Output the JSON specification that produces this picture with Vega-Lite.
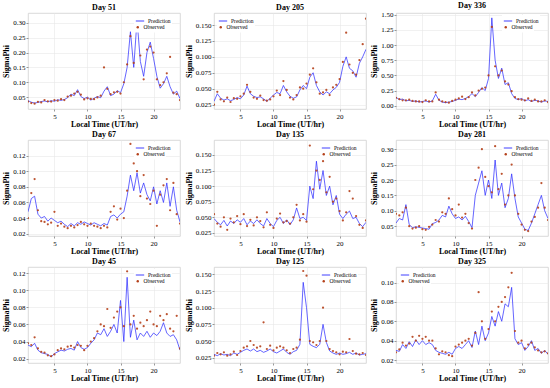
{
"$schema": "https://vega.github.io/schema/vega-lite/v6.json",
"padding": {"left": 2, "top": 1, "right": 2, "bottom": 1},
"background": "white",
"datasets": {
"d51": [{"t":1,"p":0.038,"o":0.035},{"t":1.5,"p":0.033,"o":0.030},{"t":2,"p":0.030,"o":0.028},{"t":2.5,"p":0.032,"o":0.034},{"t":3,"p":0.035,"o":0.032},{"t":3.5,"p":0.037,"o":0.040},{"t":4,"p":0.034,"o":0.036},{"t":4.5,"p":0.038,"o":0.035},{"t":5,"p":0.036,"o":0.040},{"t":5.5,"p":0.041,"o":0.038},{"t":6,"p":0.039,"o":0.043},{"t":6.5,"p":0.042,"o":0.040},{"t":7,"p":0.048,"o":0.052},{"t":7.5,"p":0.060,"o":0.055},{"t":8,"p":0.055,"o":0.062},{"t":8.5,"p":0.075,"o":0.068},{"t":9,"p":0.052,"o":0.058},{"t":9.5,"p":0.045,"o":0.042},{"t":10,"p":0.050,"o":0.046},{"t":10.5,"p":0.040,"o":0.044},{"t":11,"p":0.046,"o":0.043},{"t":11.5,"p":0.052,"o":0.049},{"t":12,"p":0.048,"o":0.055},{"t":12.5,"p":0.070,"o":0.150},{"t":13,"p":0.085,"o":0.078},{"t":13.5,"p":0.055,"o":0.060},{"t":14,"p":0.060,"o":0.066},{"t":14.5,"p":0.072,"o":0.068},{"t":15,"p":0.065,"o":0.062},{"t":15.5,"p":0.095,"o":0.100},{"t":16,"p":0.150,"o":0.160},{"t":16.5,"p":0.270,"o":0.255},{"t":17,"p":0.150,"o":0.165},{"t":17.5,"p":0.310,"o":0.300},{"t":18,"p":0.170,"o":0.190},{"t":18.5,"p":0.120,"o":0.110},{"t":19,"p":0.200,"o":0.210},{"t":19.5,"p":0.235,"o":0.220},{"t":20,"p":0.180,"o":0.200},{"t":20.5,"p":0.120,"o":0.110},{"t":21,"p":0.080,"o":0.090},{"t":21.5,"p":0.095,"o":0.100},{"t":22,"p":0.120,"o":0.130},{"t":22.5,"p":0.085,"o":0.185},{"t":23,"p":0.060,"o":0.065},{"t":23.5,"p":0.070,"o":0.060},{"t":24,"p":0.045,"o":0.040}],
"d205": [{"t":1,"p":0.030,"o":0.025},{"t":1.5,"p":0.042,"o":0.045},{"t":2,"p":0.035,"o":0.033},{"t":2.5,"p":0.032,"o":0.030},{"t":3,"p":0.034,"o":0.036},{"t":3.5,"p":0.031,"o":0.029},{"t":4,"p":0.033,"o":0.035},{"t":4.5,"p":0.036,"o":0.034},{"t":5,"p":0.034,"o":0.038},{"t":5.5,"p":0.040,"o":0.042},{"t":6,"p":0.054,"o":0.056},{"t":6.5,"p":0.042,"o":0.045},{"t":7,"p":0.038,"o":0.036},{"t":7.5,"p":0.036,"o":0.034},{"t":8,"p":0.037,"o":0.039},{"t":8.5,"p":0.034,"o":0.032},{"t":9,"p":0.030,"o":0.031},{"t":9.5,"p":0.035,"o":0.033},{"t":10,"p":0.040,"o":0.038},{"t":10.5,"p":0.044,"o":0.047},{"t":11,"p":0.042,"o":0.040},{"t":11.5,"p":0.055,"o":0.062},{"t":12,"p":0.045,"o":0.048},{"t":12.5,"p":0.038,"o":0.036},{"t":13,"p":0.035,"o":0.033},{"t":13.5,"p":0.037,"o":0.040},{"t":14,"p":0.048,"o":0.052},{"t":14.5,"p":0.055,"o":0.050},{"t":15,"p":0.050,"o":0.058},{"t":15.5,"p":0.068,"o":0.072},{"t":16,"p":0.075,"o":0.082},{"t":16.5,"p":0.055,"o":0.060},{"t":17,"p":0.045,"o":0.042},{"t":17.5,"p":0.040,"o":0.044},{"t":18,"p":0.045,"o":0.048},{"t":18.5,"p":0.042,"o":0.040},{"t":19,"p":0.048,"o":0.052},{"t":19.5,"p":0.052,"o":0.056},{"t":20,"p":0.060,"o":0.065},{"t":20.5,"p":0.085,"o":0.092},{"t":21,"p":0.100,"o":0.138},{"t":21.5,"p":0.082,"o":0.088},{"t":22,"p":0.078,"o":0.075},{"t":22.5,"p":0.068,"o":0.072},{"t":23,"p":0.090,"o":0.095},{"t":23.5,"p":0.100,"o":0.120},{"t":24,"p":0.112,"o":0.160}],
"d336": [{"t":1,"p":0.14,"o":0.13},{"t":1.5,"p":0.10,"o":0.11},{"t":2,"p":0.11,"o":0.09},{"t":2.5,"p":0.08,"o":0.09},{"t":3,"p":0.09,"o":0.10},{"t":3.5,"p":0.07,"o":0.08},{"t":4,"p":0.08,"o":0.07},{"t":4.5,"p":0.06,"o":0.07},{"t":5,"p":0.07,"o":0.06},{"t":5.5,"p":0.08,"o":0.09},{"t":6,"p":0.06,"o":0.07},{"t":6.5,"p":0.08,"o":0.07},{"t":7,"p":0.19,"o":0.22},{"t":7.5,"p":0.09,"o":0.10},{"t":8,"p":0.06,"o":0.07},{"t":8.5,"p":0.05,"o":0.06},{"t":9,"p":0.06,"o":0.05},{"t":9.5,"p":0.07,"o":0.08},{"t":10,"p":0.09,"o":0.10},{"t":10.5,"p":0.11,"o":0.12},{"t":11,"p":0.10,"o":0.15},{"t":11.5,"p":0.12,"o":0.11},{"t":12,"p":0.15,"o":0.14},{"t":12.5,"p":0.20,"o":0.22},{"t":13,"p":0.15,"o":0.17},{"t":13.5,"p":0.22,"o":0.25},{"t":14,"p":0.30,"o":0.28},{"t":14.5,"p":0.25,"o":0.30},{"t":15,"p":0.45,"o":0.50},{"t":15.5,"p":1.45,"o":1.30},{"t":16,"p":0.75,"o":0.65},{"t":16.5,"p":0.45,"o":0.50},{"t":17,"p":0.62,"o":0.58},{"t":17.5,"p":0.35,"o":0.40},{"t":18,"p":0.38,"o":0.35},{"t":18.5,"p":0.20,"o":0.24},{"t":19,"p":0.12,"o":0.14},{"t":19.5,"p":0.10,"o":0.11},{"t":20,"p":0.12,"o":0.10},{"t":20.5,"p":0.08,"o":0.09},{"t":21,"p":0.10,"o":0.12},{"t":21.5,"p":0.07,"o":0.08},{"t":22,"p":0.09,"o":0.10},{"t":22.5,"p":0.08,"o":0.07},{"t":23,"p":0.06,"o":0.07},{"t":23.5,"p":0.08,"o":0.09},{"t":24,"p":0.07,"o":0.06}],
"d67": [{"t":1,"p":0.048,"o":0.040},{"t":1.5,"p":0.065,"o":0.072},{"t":2,"p":0.068,"o":0.090},{"t":2.5,"p":0.045,"o":0.050},{"t":3,"p":0.040,"o":0.036},{"t":3.5,"p":0.042,"o":0.035},{"t":4,"p":0.036,"o":0.032},{"t":4.5,"p":0.040,"o":0.034},{"t":5,"p":0.037,"o":0.048},{"t":5.5,"p":0.034,"o":0.030},{"t":6,"p":0.036,"o":0.033},{"t":6.5,"p":0.032,"o":0.029},{"t":7,"p":0.029,"o":0.027},{"t":7.5,"p":0.033,"o":0.030},{"t":8,"p":0.030,"o":0.028},{"t":8.5,"p":0.034,"o":0.031},{"t":9,"p":0.032,"o":0.035},{"t":9.5,"p":0.035,"o":0.032},{"t":10,"p":0.033,"o":0.030},{"t":10.5,"p":0.031,"o":0.033},{"t":11,"p":0.034,"o":0.030},{"t":11.5,"p":0.032,"o":0.029},{"t":12,"p":0.030,"o":0.027},{"t":12.5,"p":0.033,"o":0.030},{"t":13,"p":0.031,"o":0.028},{"t":13.5,"p":0.042,"o":0.048},{"t":14,"p":0.044,"o":0.055},{"t":14.5,"p":0.040,"o":0.038},{"t":15,"p":0.045,"o":0.052},{"t":15.5,"p":0.048,"o":0.040},{"t":16,"p":0.068,"o":0.075},{"t":16.5,"p":0.095,"o":0.135},{"t":17,"p":0.075,"o":0.110},{"t":17.5,"p":0.098,"o":0.100},{"t":18,"p":0.072,"o":0.068},{"t":18.5,"p":0.085,"o":0.095},{"t":19,"p":0.070,"o":0.065},{"t":19.5,"p":0.062,"o":0.058},{"t":20,"p":0.080,"o":0.075},{"t":20.5,"p":0.058,"o":0.030},{"t":21,"p":0.075,"o":0.070},{"t":21.5,"p":0.060,"o":0.082},{"t":22,"p":0.085,"o":0.090},{"t":22.5,"p":0.055,"o":0.050},{"t":23,"p":0.080,"o":0.085},{"t":23.5,"p":0.050,"o":0.045},{"t":24,"p":0.035,"o":0.033}],
"d135": [{"t":1,"p":0.048,"o":0.055},{"t":1.5,"p":0.042,"o":0.040},{"t":2,"p":0.038,"o":0.035},{"t":2.5,"p":0.045,"o":0.050},{"t":3,"p":0.036,"o":0.030},{"t":3.5,"p":0.044,"o":0.048},{"t":4,"p":0.040,"o":0.042},{"t":4.5,"p":0.046,"o":0.052},{"t":5,"p":0.042,"o":0.039},{"t":5.5,"p":0.048,"o":0.055},{"t":6,"p":0.038,"o":0.036},{"t":6.5,"p":0.044,"o":0.046},{"t":7,"p":0.040,"o":0.037},{"t":7.5,"p":0.046,"o":0.050},{"t":8,"p":0.040,"o":0.044},{"t":8.5,"p":0.036,"o":0.034},{"t":9,"p":0.048,"o":0.058},{"t":9.5,"p":0.040,"o":0.038},{"t":10,"p":0.035,"o":0.033},{"t":10.5,"p":0.045,"o":0.048},{"t":11,"p":0.050,"o":0.056},{"t":11.5,"p":0.040,"o":0.042},{"t":12,"p":0.046,"o":0.044},{"t":12.5,"p":0.038,"o":0.040},{"t":13,"p":0.046,"o":0.050},{"t":13.5,"p":0.065,"o":0.070},{"t":14,"p":0.048,"o":0.045},{"t":14.5,"p":0.050,"o":0.055},{"t":15,"p":0.045,"o":0.043},{"t":15.5,"p":0.100,"o":0.165},{"t":16,"p":0.080,"o":0.095},{"t":16.5,"p":0.140,"o":0.125},{"t":17,"p":0.095,"o":0.110},{"t":17.5,"p":0.125,"o":0.140},{"t":18,"p":0.085,"o":0.090},{"t":18.5,"p":0.100,"o":0.115},{"t":19,"p":0.070,"o":0.075},{"t":19.5,"p":0.085,"o":0.080},{"t":20,"p":0.055,"o":0.060},{"t":20.5,"p":0.048,"o":0.045},{"t":21,"p":0.055,"o":0.058},{"t":21.5,"p":0.060,"o":0.092},{"t":22,"p":0.048,"o":0.080},{"t":22.5,"p":0.050,"o":0.052},{"t":23,"p":0.040,"o":0.038},{"t":23.5,"p":0.035,"o":0.033},{"t":24,"p":0.042,"o":0.045}],
"d281": [{"t":1,"p":0.060,"o":0.090},{"t":1.5,"p":0.075,"o":0.085},{"t":2,"p":0.070,"o":0.095},{"t":2.5,"p":0.120,"o":0.110},{"t":3,"p":0.055,"o":0.050},{"t":3.5,"p":0.045,"o":0.042},{"t":4,"p":0.048,"o":0.045},{"t":4.5,"p":0.046,"o":0.050},{"t":5,"p":0.044,"o":0.040},{"t":5.5,"p":0.042,"o":0.038},{"t":6,"p":0.040,"o":0.048},{"t":6.5,"p":0.058,"o":0.055},{"t":7,"p":0.062,"o":0.070},{"t":7.5,"p":0.070,"o":0.065},{"t":8,"p":0.085,"o":0.095},{"t":8.5,"p":0.080,"o":0.090},{"t":9,"p":0.115,"o":0.140},{"t":9.5,"p":0.090,"o":0.105},{"t":10,"p":0.075,"o":0.085},{"t":10.5,"p":0.080,"o":0.120},{"t":11,"p":0.070,"o":0.078},{"t":11.5,"p":0.082,"o":0.090},{"t":12,"p":0.065,"o":0.060},{"t":12.5,"p":0.045,"o":0.042},{"t":13,"p":0.150,"o":0.200},{"t":13.5,"p":0.190,"o":0.240},{"t":14,"p":0.230,"o":0.300},{"t":14.5,"p":0.150,"o":0.210},{"t":15,"p":0.200,"o":0.180},{"t":15.5,"p":0.140,"o":0.160},{"t":16,"p":0.265,"o":0.310},{"t":16.5,"p":0.150,"o":0.170},{"t":17,"p":0.190,"o":0.220},{"t":17.5,"p":0.110,"o":0.120},{"t":18,"p":0.140,"o":0.150},{"t":18.5,"p":0.220,"o":0.250},{"t":19,"p":0.140,"o":0.150},{"t":19.5,"p":0.080,"o":0.090},{"t":20,"p":0.060,"o":0.055},{"t":20.5,"p":0.040,"o":0.038},{"t":21,"p":0.036,"o":0.034},{"t":21.5,"p":0.060,"o":0.065},{"t":22,"p":0.090,"o":0.080},{"t":22.5,"p":0.120,"o":0.110},{"t":23,"p":0.150,"o":0.190},{"t":23.5,"p":0.100,"o":0.110},{"t":24,"p":0.075,"o":0.070}],
"d45": [{"t":1,"p":0.036,"o":0.038},{"t":1.5,"p":0.034,"o":0.036},{"t":2,"p":0.038,"o":0.045},{"t":2.5,"p":0.030,"o":0.032},{"t":3,"p":0.027,"o":0.028},{"t":3.5,"p":0.026,"o":0.027},{"t":4,"p":0.025,"o":0.024},{"t":4.5,"p":0.022,"o":0.023},{"t":5,"p":0.026,"o":0.025},{"t":5.5,"p":0.028,"o":0.030},{"t":6,"p":0.030,"o":0.032},{"t":6.5,"p":0.029,"o":0.031},{"t":7,"p":0.031,"o":0.034},{"t":7.5,"p":0.032,"o":0.035},{"t":8,"p":0.030,"o":0.033},{"t":8.5,"p":0.040,"o":0.036},{"t":9,"p":0.033,"o":0.035},{"t":9.5,"p":0.031,"o":0.030},{"t":10,"p":0.033,"o":0.035},{"t":10.5,"p":0.038,"o":0.040},{"t":11,"p":0.042,"o":0.044},{"t":11.5,"p":0.050,"o":0.052},{"t":12,"p":0.048,"o":0.060},{"t":12.5,"p":0.055,"o":0.058},{"t":13,"p":0.046,"o":0.078},{"t":13.5,"p":0.052,"o":0.056},{"t":14,"p":0.060,"o":0.068},{"t":14.5,"p":0.050,"o":0.075},{"t":15,"p":0.088,"o":0.080},{"t":15.5,"p":0.040,"o":0.058},{"t":16,"p":0.115,"o":0.122},{"t":16.5,"p":0.045,"o":0.060},{"t":17,"p":0.065,"o":0.070},{"t":17.5,"p":0.042,"o":0.055},{"t":18,"p":0.050,"o":0.062},{"t":18.5,"p":0.046,"o":0.058},{"t":19,"p":0.052,"o":0.065},{"t":19.5,"p":0.045,"o":0.075},{"t":20,"p":0.050,"o":0.060},{"t":20.5,"p":0.047,"o":0.058},{"t":21,"p":0.052,"o":0.070},{"t":21.5,"p":0.062,"o":0.065},{"t":22,"p":0.050,"o":0.072},{"t":22.5,"p":0.046,"o":0.055},{"t":23,"p":0.048,"o":0.052},{"t":23.5,"p":0.042,"o":0.070},{"t":24,"p":0.030,"o":0.032}],
"d125": [{"t":1,"p":0.030,"o":0.028},{"t":1.5,"p":0.028,"o":0.032},{"t":2,"p":0.031,"o":0.030},{"t":2.5,"p":0.029,"o":0.033},{"t":3,"p":0.030,"o":0.028},{"t":3.5,"p":0.028,"o":0.030},{"t":4,"p":0.032,"o":0.034},{"t":4.5,"p":0.030,"o":0.029},{"t":5,"p":0.033,"o":0.035},{"t":5.5,"p":0.036,"o":0.040},{"t":6,"p":0.038,"o":0.042},{"t":6.5,"p":0.035,"o":0.050},{"t":7,"p":0.038,"o":0.044},{"t":7.5,"p":0.034,"o":0.040},{"t":8,"p":0.036,"o":0.042},{"t":8.5,"p":0.033,"o":0.078},{"t":9,"p":0.035,"o":0.038},{"t":9.5,"p":0.038,"o":0.043},{"t":10,"p":0.034,"o":0.036},{"t":10.5,"p":0.032,"o":0.040},{"t":11,"p":0.035,"o":0.042},{"t":11.5,"p":0.038,"o":0.040},{"t":12,"p":0.033,"o":0.036},{"t":12.5,"p":0.030,"o":0.032},{"t":13,"p":0.034,"o":0.038},{"t":13.5,"p":0.036,"o":0.040},{"t":14,"p":0.045,"o":0.052},{"t":14.5,"p":0.138,"o":0.155},{"t":15,"p":0.100,"o":0.148},{"t":15.5,"p":0.045,"o":0.050},{"t":16,"p":0.042,"o":0.048},{"t":16.5,"p":0.040,"o":0.044},{"t":17,"p":0.045,"o":0.050},{"t":17.5,"p":0.075,"o":0.100},{"t":18,"p":0.048,"o":0.050},{"t":18.5,"p":0.035,"o":0.038},{"t":19,"p":0.032,"o":0.035},{"t":19.5,"p":0.030,"o":0.033},{"t":20,"p":0.032,"o":0.030},{"t":20.5,"p":0.030,"o":0.034},{"t":21,"p":0.031,"o":0.033},{"t":21.5,"p":0.033,"o":0.053},{"t":22,"p":0.030,"o":0.035},{"t":22.5,"p":0.032,"o":0.031},{"t":23,"p":0.029,"o":0.030},{"t":23.5,"p":0.030,"o":0.032},{"t":24,"p":0.031,"o":0.029}],
"d325": [{"t":1,"p":0.030,"o":0.028},{"t":1.5,"p":0.029,"o":0.031},{"t":2,"p":0.036,"o":0.038},{"t":2.5,"p":0.032,"o":0.035},{"t":3,"p":0.039,"o":0.037},{"t":3.5,"p":0.034,"o":0.044},{"t":4,"p":0.041,"o":0.040},{"t":4.5,"p":0.036,"o":0.045},{"t":5,"p":0.040,"o":0.042},{"t":5.5,"p":0.036,"o":0.044},{"t":6,"p":0.038,"o":0.040},{"t":6.5,"p":0.036,"o":0.040},{"t":7,"p":0.030,"o":0.032},{"t":7.5,"p":0.028,"o":0.026},{"t":8,"p":0.027,"o":0.029},{"t":8.5,"p":0.026,"o":0.028},{"t":9,"p":0.028,"o":0.025},{"t":9.5,"p":0.026,"o":0.024},{"t":10,"p":0.032,"o":0.034},{"t":10.5,"p":0.034,"o":0.036},{"t":11,"p":0.032,"o":0.038},{"t":11.5,"p":0.036,"o":0.040},{"t":12,"p":0.040,"o":0.042},{"t":12.5,"p":0.033,"o":0.035},{"t":13,"p":0.050,"o":0.048},{"t":13.5,"p":0.036,"o":0.090},{"t":14,"p":0.055,"o":0.060},{"t":14.5,"p":0.040,"o":0.042},{"t":15,"p":0.048,"o":0.052},{"t":15.5,"p":0.065,"o":0.070},{"t":16,"p":0.055,"o":0.060},{"t":16.5,"p":0.070,"o":0.075},{"t":17,"p":0.060,"o":0.080},{"t":17.5,"p":0.078,"o":0.085},{"t":18,"p":0.075,"o":0.095},{"t":18.5,"p":0.095,"o":0.110},{"t":19,"p":0.042,"o":0.050},{"t":19.5,"p":0.036,"o":0.038},{"t":20,"p":0.038,"o":0.040},{"t":20.5,"p":0.030,"o":0.032},{"t":21,"p":0.034,"o":0.036},{"t":21.5,"p":0.040,"o":0.038},{"t":22,"p":0.030,"o":0.033},{"t":22.5,"p":0.032,"o":0.030},{"t":23,"p":0.027,"o":0.028},{"t":23.5,"p":0.030,"o":0.029},{"t":24,"p":0.026,"o":0.027}]
},
"columns": 3,
"spacing": {"row": 1, "column": 3},
"resolve": {"scale": {"color": "independent", "fill": "independent"}, "legend": {"color": "independent", "fill": "independent"}},
"concat": [
{"title": "Day 51", "width": 152, "height": 96, "data": {"name": "d51"}, "layer": [
 {"mark": {"type": "line", "clip": true}, "encoding": {"x": {"field": "t", "type": "quantitative", "scale": {"domain": [1, 24], "nice": false, "zero": false}, "axis": {"values": [5, 10, 15, 20], "title": "Local Time (UT/hr)"}}, "y": {"field": "p", "type": "quantitative", "scale": {"domain": [0.01, 0.333], "nice": false, "zero": false}, "axis": {"values": [0.05, 0.1, 0.15, 0.2, 0.25, 0.3], "format": ".2f", "title": "SigmaPhi"}}, "color": {"datum": "Prediction", "type": "nominal", "scale": {"range": ["#2a2aff"]}, "legend": {"orient": "none", "legendX": 106, "legendY": 2, "title": null, "symbolType": "stroke", "symbolSize": 70, "symbolStrokeWidth": 1.2}}}},
 {"mark": {"type": "point", "clip": true}, "encoding": {"x": {"field": "t", "type": "quantitative"}, "y": {"field": "o", "type": "quantitative"}, "fill": {"datum": "Observed", "type": "nominal", "scale": {"range": ["#b5401a"]}, "legend": {"orient": "none", "legendX": 106, "legendY": 10.5, "title": null, "symbolType": "circle", "symbolSize": 6}}}}
]},
{"title": "Day 205", "width": 152, "height": 96, "data": {"name": "d205"}, "layer": [
 {"mark": {"type": "line", "clip": true}, "encoding": {"x": {"field": "t", "type": "quantitative", "scale": {"domain": [1, 24], "nice": false, "zero": false}, "axis": {"values": [5, 10, 15, 20], "title": "Local Time (UT/hr)"}}, "y": {"field": "p", "type": "quantitative", "scale": {"domain": [0.018, 0.169], "nice": false, "zero": false}, "axis": {"values": [0.025, 0.05, 0.075, 0.1, 0.125, 0.15], "format": ".3f", "title": "SigmaPhi"}}, "color": {"datum": "Prediction", "type": "nominal", "scale": {"range": ["#2a2aff"]}, "legend": {"orient": "none", "legendX": 3, "legendY": 2, "title": null, "symbolType": "stroke", "symbolSize": 70, "symbolStrokeWidth": 1.2}}}},
 {"mark": {"type": "point", "clip": true}, "encoding": {"x": {"field": "t", "type": "quantitative"}, "y": {"field": "o", "type": "quantitative"}, "fill": {"datum": "Observed", "type": "nominal", "scale": {"range": ["#b5401a"]}, "legend": {"orient": "none", "legendX": 3, "legendY": 10.5, "title": null, "symbolType": "circle", "symbolSize": 6}}}}
]},
{"title": "Day 336", "width": 152, "height": 96, "data": {"name": "d336"}, "layer": [
 {"mark": {"type": "line", "clip": true}, "encoding": {"x": {"field": "t", "type": "quantitative", "scale": {"domain": [1, 24], "nice": false, "zero": false}, "axis": {"values": [5, 10, 15, 20], "title": "Local Time (UT/hr)"}}, "y": {"field": "p", "type": "quantitative", "scale": {"domain": [-0.054, 1.53], "nice": false, "zero": false}, "axis": {"values": [0, 0.25, 0.5, 0.75, 1, 1.25, 1.5], "format": ".2f", "title": "SigmaPhi"}}, "color": {"datum": "Prediction", "type": "nominal", "scale": {"range": ["#2a2aff"]}, "legend": {"orient": "none", "legendX": 106, "legendY": 2, "title": null, "symbolType": "stroke", "symbolSize": 70, "symbolStrokeWidth": 1.2}}}},
 {"mark": {"type": "point", "clip": true}, "encoding": {"x": {"field": "t", "type": "quantitative"}, "y": {"field": "o", "type": "quantitative"}, "fill": {"datum": "Observed", "type": "nominal", "scale": {"range": ["#b5401a"]}, "legend": {"orient": "none", "legendX": 106, "legendY": 10.5, "title": null, "symbolType": "circle", "symbolSize": 6}}}}
]},
{"title": "Day 67", "width": 152, "height": 96, "data": {"name": "d67"}, "layer": [
 {"mark": {"type": "line", "clip": true}, "encoding": {"x": {"field": "t", "type": "quantitative", "scale": {"domain": [1, 24], "nice": false, "zero": false}, "axis": {"values": [5, 10, 15, 20], "title": "Local Time (UT/hr)"}}, "y": {"field": "p", "type": "quantitative", "scale": {"domain": [0.017, 0.14], "nice": false, "zero": false}, "axis": {"values": [0.02, 0.04, 0.06, 0.08, 0.1, 0.12], "format": ".2f", "title": "SigmaPhi"}}, "color": {"datum": "Prediction", "type": "nominal", "scale": {"range": ["#2a2aff"]}, "legend": {"orient": "none", "legendX": 106, "legendY": 2, "title": null, "symbolType": "stroke", "symbolSize": 70, "symbolStrokeWidth": 1.2}}}},
 {"mark": {"type": "point", "clip": true}, "encoding": {"x": {"field": "t", "type": "quantitative"}, "y": {"field": "o", "type": "quantitative"}, "fill": {"datum": "Observed", "type": "nominal", "scale": {"range": ["#b5401a"]}, "legend": {"orient": "none", "legendX": 106, "legendY": 10.5, "title": null, "symbolType": "circle", "symbolSize": 6}}}}
]},
{"title": "Day 135", "width": 152, "height": 96, "data": {"name": "d135"}, "layer": [
 {"mark": {"type": "line", "clip": true}, "encoding": {"x": {"field": "t", "type": "quantitative", "scale": {"domain": [1, 24], "nice": false, "zero": false}, "axis": {"values": [5, 10, 15, 20], "title": "Local Time (UT/hr)"}}, "y": {"field": "p", "type": "quantitative", "scale": {"domain": [0.02, 0.174], "nice": false, "zero": false}, "axis": {"values": [0.025, 0.05, 0.075, 0.1, 0.125, 0.15], "format": ".3f", "title": "SigmaPhi"}}, "color": {"datum": "Prediction", "type": "nominal", "scale": {"range": ["#2a2aff"]}, "legend": {"orient": "none", "legendX": 106, "legendY": 2, "title": null, "symbolType": "stroke", "symbolSize": 70, "symbolStrokeWidth": 1.2}}}},
 {"mark": {"type": "point", "clip": true}, "encoding": {"x": {"field": "t", "type": "quantitative"}, "y": {"field": "o", "type": "quantitative"}, "fill": {"datum": "Observed", "type": "nominal", "scale": {"range": ["#b5401a"]}, "legend": {"orient": "none", "legendX": 106, "legendY": 10.5, "title": null, "symbolType": "circle", "symbolSize": 6}}}}
]},
{"title": "Day 281", "width": 152, "height": 96, "data": {"name": "d281"}, "layer": [
 {"mark": {"type": "line", "clip": true}, "encoding": {"x": {"field": "t", "type": "quantitative", "scale": {"domain": [1, 24], "nice": false, "zero": false}, "axis": {"values": [5, 10, 15, 20], "title": "Local Time (UT/hr)"}}, "y": {"field": "p", "type": "quantitative", "scale": {"domain": [0.018, 0.33], "nice": false, "zero": false}, "axis": {"values": [0.05, 0.1, 0.15, 0.2, 0.25, 0.3], "format": ".2f", "title": "SigmaPhi"}}, "color": {"datum": "Prediction", "type": "nominal", "scale": {"range": ["#2a2aff"]}, "legend": {"orient": "none", "legendX": 106, "legendY": 2, "title": null, "symbolType": "stroke", "symbolSize": 70, "symbolStrokeWidth": 1.2}}}},
 {"mark": {"type": "point", "clip": true}, "encoding": {"x": {"field": "t", "type": "quantitative"}, "y": {"field": "o", "type": "quantitative"}, "fill": {"datum": "Observed", "type": "nominal", "scale": {"range": ["#b5401a"]}, "legend": {"orient": "none", "legendX": 106, "legendY": 10.5, "title": null, "symbolType": "circle", "symbolSize": 6}}}}
]},
{"title": "Day 45", "width": 152, "height": 96, "data": {"name": "d45"}, "layer": [
 {"mark": {"type": "line", "clip": true}, "encoding": {"x": {"field": "t", "type": "quantitative", "scale": {"domain": [1, 24], "nice": false, "zero": false}, "axis": {"values": [5, 10, 15, 20], "title": "Local Time (UT/hr)"}}, "y": {"field": "p", "type": "quantitative", "scale": {"domain": [0.015, 0.127], "nice": false, "zero": false}, "axis": {"values": [0.02, 0.04, 0.06, 0.08, 0.1, 0.12], "format": ".2f", "title": "SigmaPhi"}}, "color": {"datum": "Prediction", "type": "nominal", "scale": {"range": ["#2a2aff"]}, "legend": {"orient": "none", "legendX": 106, "legendY": 2, "title": null, "symbolType": "stroke", "symbolSize": 70, "symbolStrokeWidth": 1.2}}}},
 {"mark": {"type": "point", "clip": true}, "encoding": {"x": {"field": "t", "type": "quantitative"}, "y": {"field": "o", "type": "quantitative"}, "fill": {"datum": "Observed", "type": "nominal", "scale": {"range": ["#b5401a"]}, "legend": {"orient": "none", "legendX": 106, "legendY": 10.5, "title": null, "symbolType": "circle", "symbolSize": 6}}}}
]},
{"title": "Day 125", "width": 152, "height": 96, "data": {"name": "d125"}, "layer": [
 {"mark": {"type": "line", "clip": true}, "encoding": {"x": {"field": "t", "type": "quantitative", "scale": {"domain": [1, 24], "nice": false, "zero": false}, "axis": {"values": [5, 10, 15, 20], "title": "Local Time (UT/hr)"}}, "y": {"field": "p", "type": "quantitative", "scale": {"domain": [0.017, 0.161], "nice": false, "zero": false}, "axis": {"values": [0.025, 0.05, 0.075, 0.1, 0.125, 0.15], "format": ".3f", "title": "SigmaPhi"}}, "color": {"datum": "Prediction", "type": "nominal", "scale": {"range": ["#2a2aff"]}, "legend": {"orient": "none", "legendX": 106, "legendY": 2, "title": null, "symbolType": "stroke", "symbolSize": 70, "symbolStrokeWidth": 1.2}}}},
 {"mark": {"type": "point", "clip": true}, "encoding": {"x": {"field": "t", "type": "quantitative"}, "y": {"field": "o", "type": "quantitative"}, "fill": {"datum": "Observed", "type": "nominal", "scale": {"range": ["#b5401a"]}, "legend": {"orient": "none", "legendX": 106, "legendY": 10.5, "title": null, "symbolType": "circle", "symbolSize": 6}}}}
]},
{"title": "Day 325", "width": 152, "height": 96, "data": {"name": "d325"}, "layer": [
 {"mark": {"type": "line", "clip": true}, "encoding": {"x": {"field": "t", "type": "quantitative", "scale": {"domain": [1, 24], "nice": false, "zero": false}, "axis": {"values": [5, 10, 15, 20], "title": "Local Time (UT/hr)"}}, "y": {"field": "p", "type": "quantitative", "scale": {"domain": [0.017, 0.116], "nice": false, "zero": false}, "axis": {"values": [0.02, 0.04, 0.06, 0.08, 0.1], "format": ".2f", "title": "SigmaPhi"}}, "color": {"datum": "Prediction", "type": "nominal", "scale": {"range": ["#2a2aff"]}, "legend": {"orient": "none", "legendX": 3, "legendY": 2, "title": null, "symbolType": "stroke", "symbolSize": 70, "symbolStrokeWidth": 1.2}}}},
 {"mark": {"type": "point", "clip": true}, "encoding": {"x": {"field": "t", "type": "quantitative"}, "y": {"field": "o", "type": "quantitative"}, "fill": {"datum": "Observed", "type": "nominal", "scale": {"range": ["#b5401a"]}, "legend": {"orient": "none", "legendX": 3, "legendY": 10.5, "title": null, "symbolType": "circle", "symbolSize": 6}}}}
]}
],
"config": {
 "font": "Liberation Serif",
 "view": {"stroke": "#d0d0d0", "strokeWidth": 0.8},
 "title": {"font": "Liberation Serif", "fontSize": 8, "fontWeight": "bold", "color": "#000", "offset": 1},
 "axis": {"labelFont": "Liberation Serif", "labelFontSize": 7, "labelColor": "#000", "labelOverlap": false, "tickCount": 12, "titleFont": "Liberation Serif", "titleFontSize": 8, "titleFontWeight": "bold", "titleColor": "#000", "gridColor": "#e8e8e8", "gridWidth": 0.6, "domain": false, "tickColor": "#555", "tickSize": 2, "tickWidth": 0.6, "labelPadding": 1, "titlePadding": 1},
 "axisX": {"labelFlush": false},
 "axisY": {"titlePadding": 2},
 "line": {"strokeWidth": 0.9, "opacity": 0.8},
 "point": {"filled": true, "size": 5, "opacity": 0.9},
 "legend": {"labelFont": "Liberation Serif", "labelFontSize": 5.5, "labelColor": "#000", "padding": 1, "rowPadding": 0, "fillColor": "#ffffff", "labelOffset": 3, "symbolOpacity": 1}
}
}
